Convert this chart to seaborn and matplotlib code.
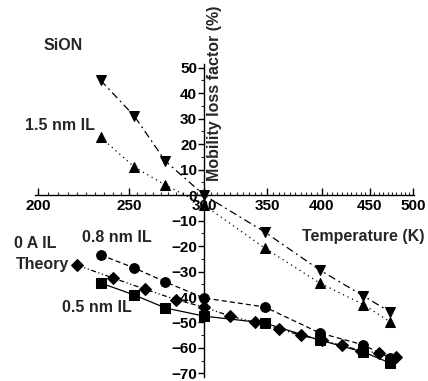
import numpy as np
import pandas as pd
import matplotlib
matplotlib.use("Agg")
import matplotlib.pyplot as plt
import matplotlib.ticker as mticker
import seaborn as sns

# ---- data ----
temps = [233, 253, 273, 300, 348, 398, 443, 473]
sion = [45, 31, 13.3, 0, -14.5, -29.4, -39.6, -45.9]
il15 = [22.7, 11, 3.9, -3.9, -20.8, -34.5, -43, -49.8]
il08 = [-23.5, -28.6, -34.1, -40.4, -43.9, -54.1, -58.8, -64]
il05 = [-34.5, -39.2, -44.3, -47.5, -50.2, -56.9, -61.6, -65.9]
theory_t = [220, 240, 260, 280, 300, 320, 340, 360, 380, 400, 420, 440, 460, 480]
theory = [-27.5, -32.5, -37, -41, -44, -47.5, -50, -52.5, -55, -57, -59, -61, -62, -63.5]

x_major = [200, 250, 300, 350, 400, 450, 500]
y_major = [50, 40, 30, 20, 10, 0, -10, -20, -30, -40, -50, -60, -70]

sns.set_theme(style="white")
plt.rcParams["font.family"] = ["Liberation Sans", "DejaVu Sans"]
plt.rcParams["font.weight"] = "bold"

fig = plt.figure(figsize=(4.28, 3.81), dpi=100)
ax = fig.add_axes([35 / 428, 0.0097, 379 / 428, 0.823])

series = [
    (temps, sion, "v", (0, (6, 3, 1.5, 3))),
    (temps, il15, "^", (0, (1, 3))),
    (temps, il08, "o", (0, (4, 2.5))),
    (temps, il05, "s", "-"),
    (theory_t, theory, "D", (0, (4, 2, 1, 2, 1, 2))),
]
for xs, ys, mk, ls in series:
    df = pd.DataFrame({"T": xs, "v": ys})
    sns.lineplot(data=df, x="T", y="v", ax=ax, color="black", marker=mk,
                 markersize=7 if mk != "D" else 6, markeredgecolor="black",
                 markerfacecolor="black", linewidth=0.9, linestyle=ls, sort=False)

ax.set_xscale("log")
ax.set_xlim(198.5, 501.2)
ax.set_ylim(-71.5, 51.5)

ax.xaxis.set_major_locator(mticker.FixedLocator(x_major))
ax.xaxis.set_major_formatter(mticker.FixedFormatter([str(v) for v in x_major]))
ax.xaxis.set_minor_locator(mticker.FixedLocator(list(range(200, 501, 5))))
ax.xaxis.set_minor_formatter(mticker.NullFormatter())
ax.yaxis.set_major_locator(mticker.FixedLocator(y_major))
ax.yaxis.set_minor_locator(mticker.MultipleLocator(5))

ax.spines["left"].set_position(("data", 300))
ax.spines["bottom"].set_position(("data", 0))
ax.spines["top"].set_visible(False)
ax.spines["right"].set_visible(False)
for s in ("left", "bottom"):
    ax.spines[s].set_color("black")
    ax.spines[s].set_linewidth(1.0)
ax.patch.set_alpha(0)

ax.tick_params(axis="x", which="major", direction="in", length=5, width=1,
               pad=3, labelsize=11, colors="black", bottom=True)
ax.tick_params(axis="x", which="minor", direction="in", length=2.5, width=0.8,
               bottom=True)
ax.tick_params(axis="y", which="major", direction="out", length=4, width=1,
               pad=1, labelsize=11, colors="black", left=True)
ax.tick_params(axis="y", which="minor", direction="out", length=2, width=0.8,
               left=True)
for lab in ax.get_xticklabels() + ax.get_yticklabels():
    lab.set_fontweight("bold")
ax.set_xlabel("")
ax.set_ylabel("")

fig.text(214 / 428, 1 - 93 / 381, "Mobility loss factor (%)", rotation=90,
         ha="center", va="center", fontsize=11.5, fontweight="bold")
fig.text(425 / 428, 1 - 237 / 381, "Temperature (K)", ha="right", va="center",
         fontsize=11.5, fontweight="bold")

notes = [
    ("SiON", 63, 45),
    ("1.5 nm IL", 60, 125),
    ("0 A IL", 35, 243),
    ("0.8 nm IL", 117, 238),
    ("Theory", 43, 265),
    ("0.5 nm IL", 97, 307),
]
for txt, px, py in notes:
    fig.text(px / 428, 1 - py / 381, txt, ha="center", va="center",
             fontsize=11.5, fontweight="bold")

fig.savefig("out.png", dpi=100, facecolor="white")
